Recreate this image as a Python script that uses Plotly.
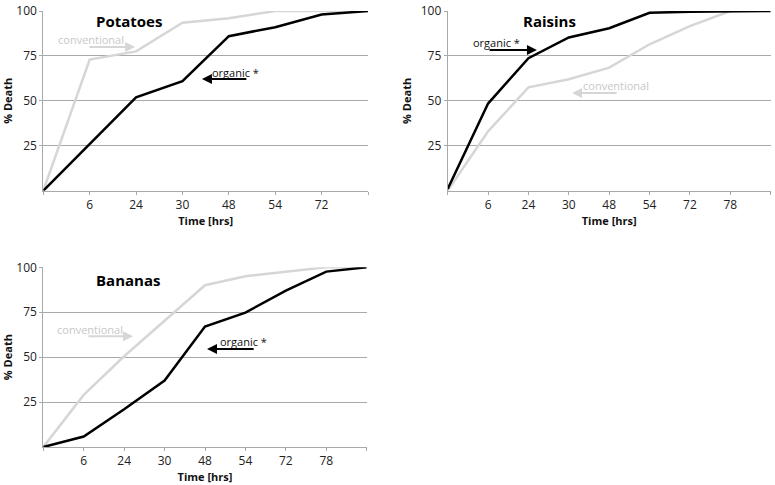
import plotly.graph_objects as go

# ---- data ----
pot_labels = ["", "6", "24", "30", "48", "54", "72", ""]
pot_organic = [0, 26, 52, 61, 86, 91, 98, 100]
pot_conventional = [0, 73, 77.5, 93.5, 96, 100, 100, 100]

rai_labels = ["", "6", "24", "30", "48", "54", "72", "78", ""]
rai_organic = [1, 48.5, 73.7, 85.3, 90.4, 99, 99.6, 100, 100]
rai_conventional = [0, 33, 57.5, 62, 68.5, 81.5, 91.6, 100, 100]

ban_labels = ["", "6", "24", "30", "48", "54", "72", "78", ""]
ban_organic = [0, 5.8, 21, 37, 67, 74.8, 87, 97.6, 100]
ban_conventional = [0, 29, 50.5, 70, 90, 95, 97.6, 100, 100]

y_ticks = [25, 50, 75, 100]

GRAY = "#d6d6d6"
BLACK = "#000000"
GRID = "#a9a9a9"
FONT = "Open Sans"

fig = go.Figure()

panels = [
    ("Potatoes", pot_labels, pot_organic, pot_conventional, "x", "y"),
    ("Raisins", rai_labels, rai_organic, rai_conventional, "x2", "y2"),
    ("Bananas", ban_labels, ban_organic, ban_conventional, "x3", "y3"),
]

for name, labels, org, conv, xa, ya in panels:
    idx = list(range(len(labels)))
    fig.add_trace(go.Scatter(x=idx, y=conv, mode="lines", line=dict(color=GRAY, width=2.5),
                             xaxis=xa, yaxis=ya, showlegend=False, cliponaxis=False))
    fig.add_trace(go.Scatter(x=idx, y=org, mode="lines", line=dict(color=BLACK, width=2.5),
                             xaxis=xa, yaxis=ya, showlegend=False, cliponaxis=False))

def xaxis(domain, labels):
    n = len(labels)
    return dict(domain=domain, range=[0, n - 1], tickmode="array",
                tickvals=list(range(n)), ticktext=labels, automargin=False,
                showgrid=False, zeroline=False, showline=True, linecolor=GRID, linewidth=1,
                ticks="outside", ticklen=3, tickcolor=GRID,
                tickfont=dict(family=FONT, size=12, color="#222"),
                title=dict(text="<b>Time [hrs]</b>", font=dict(family=FONT, size=11, color="#111"),
                           standoff=4),
                fixedrange=True)

def yaxis(domain, anchor):
    return dict(domain=domain, range=[0, 100], tickmode="array", tickvals=y_ticks,
                ticktext=[str(v) for v in y_ticks], anchor=anchor, automargin=False,
                showgrid=True, gridcolor=GRID, gridwidth=1, zeroline=False,
                showline=True, linecolor=GRID, linewidth=1,
                ticks="outside", ticklen=3, tickcolor=GRID,
                tickfont=dict(family=FONT, size=12, color="#222"),
                title=dict(text="<b>% Death</b>", font=dict(family=FONT, size=11, color="#111"),
                           standoff=6),
                fixedrange=True)

W, H = 775, 485
def sx(px):
    return px / W
def sy(py):
    return 1 - py / H

fig.update_layout(
    width=W, height=H, margin=dict(l=0, r=0, t=0, b=0, autoexpand=False),
    plot_bgcolor="white", paper_bgcolor="white", hovermode=False,
    xaxis=dict(xaxis([sx(43.3), sx(368)], pot_labels), anchor="y"),
    yaxis=yaxis([sy(190.7), sy(11)], "x"),
    xaxis2=dict(xaxis([sx(447.7), sx(770.7)], rai_labels), anchor="y2"),
    yaxis2=yaxis([sy(190.7), sy(11)], "x2"),
    xaxis3=dict(xaxis([sx(43.3), sx(366.7)], ban_labels), anchor="y3"),
    yaxis3=yaxis([sy(447), sy(267.3)], "x3"),
)

ann = []
def title(text, xr, yr, x, y):
    ann.append(dict(text=f"<b>{text}</b>", x=x, y=y, xref=xr, yref=yr, showarrow=False,
                    font=dict(family=FONT, size=15, color="#000")))

def label(text, xr, yr, x, y, color):
    ann.append(dict(text=text, x=x, y=y, xref=xr, yref=yr, showarrow=False,
                    font=dict(family=FONT, size=11, color=color)))

def arrow(xr, yr, x0, x1, y, color):
    ann.append(dict(text="", x=x1, y=y, ax=x0, ay=y, xref=xr, yref=yr, axref=xr, ayref=yr,
                    showarrow=True, arrowhead=2, arrowsize=1, arrowwidth=2, arrowcolor=color))

# Potatoes
title("Potatoes", "x", "y", 1.85, 94.4)
label("conventional", "x", "y", 1.03, 84, "#c8c8c8")
arrow("x", "y", 0.96, 1.98, 80, GRAY)
label("organic *", "x", "y", 4.15, 66, "#111")
arrow("x", "y", 4.41, 3.42, 62.2, BLACK)

# Raisins
title("Raisins", "x2", "y2", 2.53, 94.4)
label("organic *", "x2", "y2", 1.22, 82.5, "#111")
arrow("x2", "y2", 1.0, 2.21, 78.3, BLACK)
label("conventional", "x2", "y2", 4.17, 58.5, "#c8c8c8")
arrow("x2", "y2", 4.22, 3.08, 54.4, GRAY)

# Bananas
title("Bananas", "x3", "y3", 2.1, 93)
label("conventional", "x3", "y3", 1.15, 65.5, "#c8c8c8")
arrow("x3", "y3", 1.08, 2.22, 61.7, GRAY)
label("organic *", "x3", "y3", 4.94, 58.8, "#111")
arrow("x3", "y3", 5.24, 4.05, 54.6, BLACK)

fig.update_layout(annotations=ann)
fig.write_html("out.html", config={"displayModeBar": False},
               post_script="document.body.style.margin='0px';")
